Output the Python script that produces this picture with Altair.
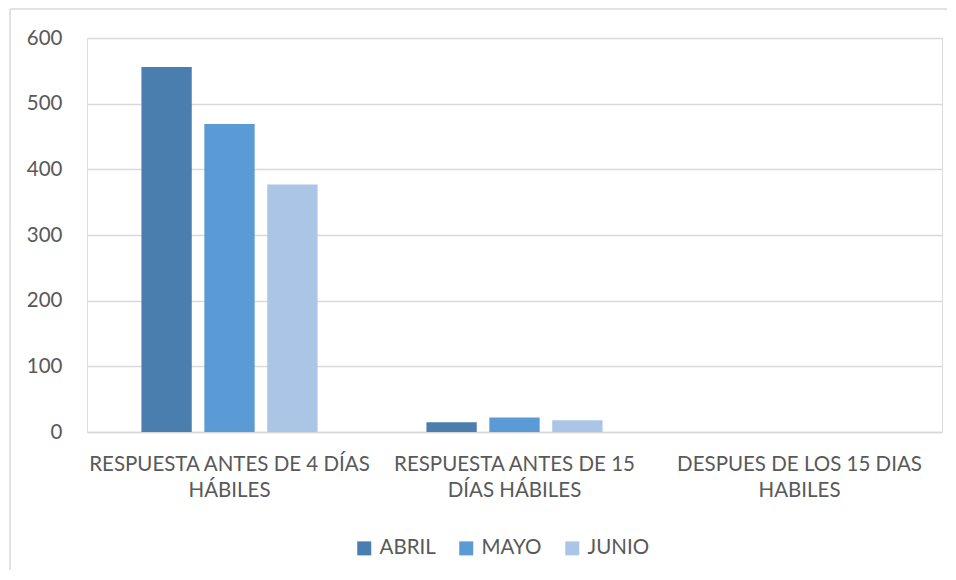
import altair as alt
import pandas as pd

categories = [
    "RESPUESTA ANTES DE 4 DÍAS HÁBILES",
    "RESPUESTA ANTES DE 15 DÍAS HÁBILES",
    "DESPUES DE LOS 15 DIAS HABILES",
]
category_lines = [
    ["RESPUESTA ANTES DE 4 DÍAS", "HÁBILES"],
    ["RESPUESTA ANTES DE 15", "DÍAS HÁBILES"],
    ["DESPUES DE LOS 15 DIAS", "HABILES"],
]
months = ["ABRIL", "MAYO", "JUNIO"]
abril = [556, 15, 0]
mayo = [469, 22, 0]
junio = [377, 18, 0]
colors = ["#4A7EAF", "#5B9BD5", "#ABC5E7"]

rows = []
for m, vals in zip(months, [abril, mayo, junio]):
    for c, v in zip(categories, vals):
        rows.append({"categoria": c, "mes": m, "valor": v})
df = pd.DataFrame(rows)

label_expr = ""
for c, lines in zip(categories, category_lines):
    arr = "[" + ",".join("'" + l + "'" for l in lines) + "]"
    label_expr += f"datum.value == '{c}' ? {arr} : "
label_expr += "datum.value"

FONT = "Lato"
TXT = "#595959"
GRID = "#D9D9D9"

bars = alt.Chart(df).mark_bar().encode(
    x=alt.X(
        "categoria:N",
        sort=categories,
        title=None,
        scale=alt.Scale(paddingInner=0.382, paddingOuter=0.191),
        axis=alt.Axis(
            labelExpr=label_expr,
            labelAngle=0,
            labelFont=FONT,
            labelFontSize=20.5,
            labelColor=TXT,
            labelPadding=22,
            labelLineHeight=26,
            ticks=False,
            domainColor=GRID,
            domainWidth=1.5,
            labelLimit=400,
        ),
    ),
    xOffset=alt.XOffset("mes:N", sort=months, scale=alt.Scale(paddingInner=0.2)),
    y=alt.Y(
        "valor:Q",
        title=None,
        scale=alt.Scale(domain=[0, 600]),
        axis=alt.Axis(
            values=[0, 100, 200, 300, 400, 500, 600],
            domain=False,
            ticks=False,
            gridColor=GRID,
            gridWidth=1.5,
            labelFont=FONT,
            labelFontSize=20.5,
            labelColor=TXT,
            labelPadding=25,
        ),
    ),
    color=alt.Color(
        "mes:N",
        sort=months,
        scale=alt.Scale(domain=months, range=colors),
        legend=alt.Legend(
            title=None,
            orient="none",
            direction="horizontal",
            legendX=267,
            legendY=500,
            symbolType="square",
            symbolSize=196,
            symbolStrokeWidth=0,
            labelFont=FONT,
            labelFontSize=20.5,
            labelColor=TXT,
            labelOffset=5,
            columnPadding=20,
        ),
    ),
)

border = alt.Chart(alt.Data(values=[{}]))
top_line = border.mark_rule(color=GRID, strokeWidth=1.5).encode(
    x=alt.value(-77), x2=alt.value(1000), y=alt.value(-29)
)
left_line = border.mark_rule(color=GRID, strokeWidth=1.5).encode(
    x=alt.value(-77), y=alt.value(-29), y2=alt.value(700)
)

chart = (
    alt.layer(bars, top_line, left_line)
    .properties(
        width=855,
        height=394,
        autosize=alt.AutoSizeParams(type="none"),
        padding={"left": 79, "top": 30, "right": 5, "bottom": 138},
    )
    .configure_view(stroke=None)
    .configure(background="white")
)

chart.save("out.html", embed_options={"renderer": "svg", "actions": False})
